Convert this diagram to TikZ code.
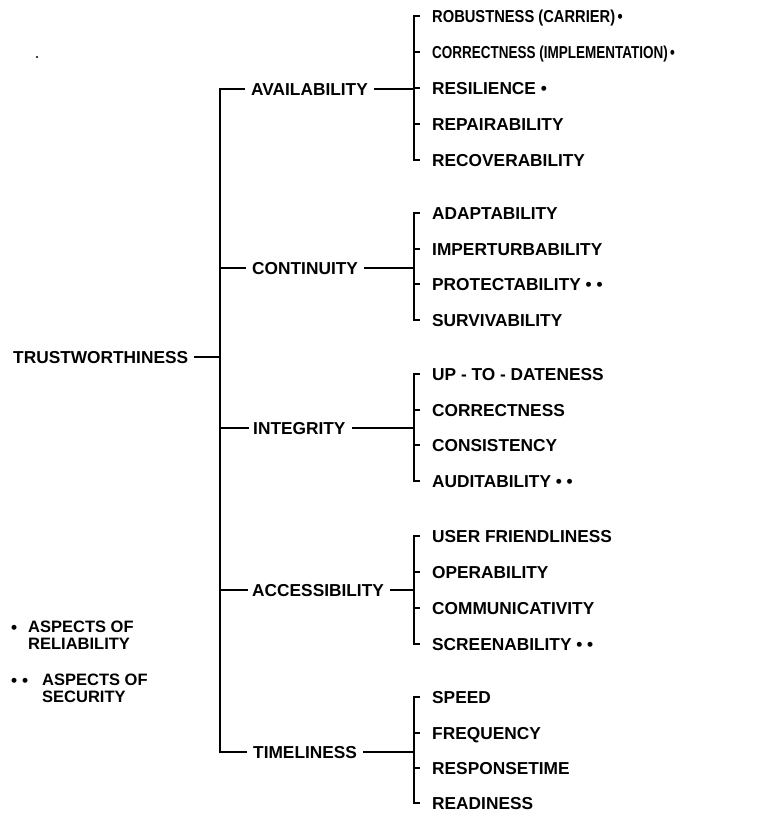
\documentclass[tikz,border=0pt]{standalone}
\usepackage{graphicx}
\usepackage{fontspec}
\setmainfont{Liberation Sans}
\begin{document}
\begin{tikzpicture}[x=1pt,y=-1pt,
  lbl/.style={font=\fontsize{17.3}{20}\selectfont\bfseries, inner sep=0pt, anchor=west, text height=12.4pt, text depth=0pt},
  leg/.style={font=\fontsize{16.5}{17}\selectfont\bfseries, inner sep=0pt, anchor=north west, align=left},
  ln/.style={line width=2.4pt, line cap=butt, line join=miter},
]
\useasboundingbox (0,0) rectangle (757,820);
\fill (37,57) circle (1.1);

% root and second level
\node[lbl] (trust) at (13,357) {TRUSTWORTHINESS};
\node[lbl] (avail) at (251,89) {AVAILABILITY};
\node[lbl] (cont) at (252,268) {CONTINUITY};
\node[lbl] (integ) at (253,428) {INTEGRITY};
\node[lbl] (acc) at (252,590) {ACCESSIBILITY};
\node[lbl] (time) at (253,752) {TIMELINESS};

\coordinate (tTop) at (220,89);
\coordinate (tBot) at (220,752);
\draw[ln] ([xshift=-6pt]avail.west) -- (tTop) -- (tBot) -- ([xshift=-6pt]time.west);
\draw[ln] (tTop |- cont.west) -- ([xshift=-6pt]cont.west);
\draw[ln] (tTop |- integ.west) -- ([xshift=-4pt]integ.west);
\draw[ln] (tTop |- acc.west) -- ([xshift=-4pt]acc.west);
\draw[ln] ([xshift=6pt]trust.east) -- (tTop |- trust.east);

% bracket column
\coordinate (bx) at (414,0);

% AVAILABILITY group
\node[lbl] (a1) at (432,16) {\scalebox{0.85}[1]{ROBUSTNESS (CARRIER)\,•}};
\node[lbl] (a2) at (432,52) {\scalebox{0.78}[1]{CORRECTNESS (IMPLEMENTATION)\,•}};
\node[lbl] (a3) at (432,88) {RESILIENCE •};
\node[lbl] (a4) at (432,124) {REPAIRABILITY};
\node[lbl] (a5) at (432,160) {RECOVERABILITY};
\draw[ln] ([xshift=-12pt]a1.west) -- (bx |- a1.west) -- (bx |- a5.west) -- ([xshift=-12pt]a5.west);
\foreach \n in {a2,a3,a4} \draw[ln] (bx |- \n.west) -- ([xshift=-12pt]\n.west);
\draw[ln] ([xshift=6pt]avail.east) -- (bx |- avail.east);

% CONTINUITY group
\node[lbl] (c1) at (432,213) {ADAPTABILITY};
\node[lbl] (c2) at (432,249) {IMPERTURBABILITY};
\node[lbl] (c3) at (432,284) {PROTECTABILITY • •};
\node[lbl] (c4) at (432,320) {SURVIVABILITY};
\draw[ln] ([xshift=-12pt]c1.west) -- (bx |- c1.west) -- (bx |- c4.west) -- ([xshift=-12pt]c4.west);
\foreach \n in {c2,c3} \draw[ln] (bx |- \n.west) -- ([xshift=-12pt]\n.west);
\draw[ln] ([xshift=6pt]cont.east) -- (bx |- cont.east);

% INTEGRITY group
\node[lbl] (i1) at (432,374) {UP - TO - DATENESS};
\node[lbl] (i2) at (432,410) {CORRECTNESS};
\node[lbl] (i3) at (432,445) {CONSISTENCY};
\node[lbl] (i4) at (432,481) {AUDITABILITY • •};
\draw[ln] ([xshift=-12pt]i1.west) -- (bx |- i1.west) -- (bx |- i4.west) -- ([xshift=-12pt]i4.west);
\foreach \n in {i2,i3} \draw[ln] (bx |- \n.west) -- ([xshift=-12pt]\n.west);
\draw[ln] ([xshift=6pt]integ.east) -- (bx |- integ.east);

% ACCESSIBILITY group
\node[lbl] (s1) at (432,536) {USER FRIENDLINESS};
\node[lbl] (s2) at (432,572) {OPERABILITY};
\node[lbl] (s3) at (432,608) {COMMUNICATIVITY};
\node[lbl] (s4) at (432,644) {SCREENABILITY • •};
\draw[ln] ([xshift=-12pt]s1.west) -- (bx |- s1.west) -- (bx |- s4.west) -- ([xshift=-12pt]s4.west);
\foreach \n in {s2,s3} \draw[ln] (bx |- \n.west) -- ([xshift=-12pt]\n.west);
\draw[ln] ([xshift=6pt]acc.east) -- (bx |- acc.east);

% TIMELINESS group
\node[lbl] (t1) at (432,697) {SPEED};
\node[lbl] (t2) at (432,733) {FREQUENCY};
\node[lbl] (t3) at (432,768) {RESPONSETIME};
\node[lbl] (t4) at (432,803) {READINESS};
\draw[ln] ([xshift=-12pt]t1.west) -- (bx |- t1.west) -- (bx |- t4.west) -- ([xshift=-12pt]t4.west);
\foreach \n in {t2,t3} \draw[ln] (bx |- \n.west) -- ([xshift=-12pt]\n.west);
\draw[ln] ([xshift=6pt]time.east) -- (bx |- time.east);

% legend
\node[lbl] (d1) at (11,627) {•};
\node[leg] (l1) at (28,621) {ASPECTS OF\\RELIABILITY};
\node[lbl] (d2) at (11,680) {• •};
\node[leg] (l2) at (42,674) {ASPECTS OF\\SECURITY};
\end{tikzpicture}
\end{document}
